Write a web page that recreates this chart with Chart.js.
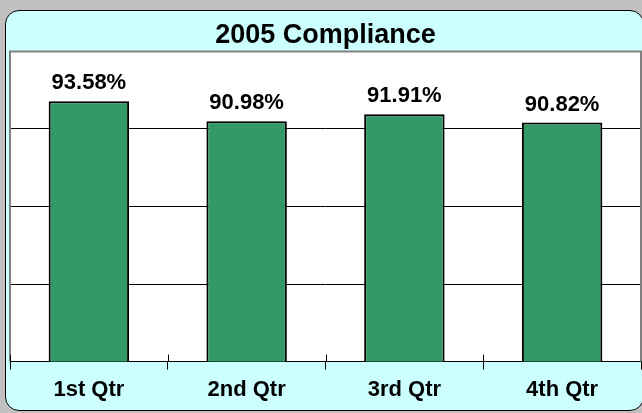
<!DOCTYPE html>
<html>
<head>
<meta charset="utf-8">
<script src="https://cdn.jsdelivr.net/npm/chart.js@4"></script>
<style>
  html, body { margin: 0; padding: 0; background: #c0c0c0; overflow: hidden; }
  #panel {
    position: absolute; left: 5px; top: 10px; width: 637px; height: 399px;
    border: 1px solid #000; border-radius: 14px; background: #ccffff; overflow: hidden;
  }
  #panel canvas { display: block; }
</style>
</head>
<body>
<div id="panel"><canvas id="myChart" width="637" height="399"></canvas></div>
<script>
const quarters = ['1st Qtr', '2nd Qtr', '3rd Qtr', '4th Qtr'];
const compliance = [93.58, 90.98, 91.91, 90.82];
const yTicks = [60, 70, 80, 90, 100];

const ctx = document.getElementById('myChart');
const font = "'Liberation Sans', Arial, sans-serif";

// white plot area + gray frame, crossing tick marks, value labels
const plotDecor = {
    id: 'plotDecor',
    beforeDraw(chart) {
        const a = chart.chartArea, c = chart.ctx;
        c.save();
        c.fillStyle = '#ffffff';
        c.fillRect(a.left, a.top, a.right - a.left, a.bottom - a.top);
        c.restore();
    },
    afterDraw(chart) {
        const a = chart.chartArea, c = chart.ctx;
        c.save();
        c.strokeStyle = '#808080';
        c.lineWidth = 2;
        c.beginPath();
        c.moveTo(a.left, a.bottom);
        c.lineTo(a.left, a.top);
        c.lineTo(a.right, a.top);
        c.lineTo(a.right, a.bottom);
        c.stroke();

        // upper half of the crossing tick marks
        const x = chart.scales.x;
        const half = (x.getPixelForValue(1) - x.getPixelForValue(0)) / 2;
        c.strokeStyle = '#000';
        c.lineWidth = 1;
        for (let i = 0; i < quarters.length; i++) {
            const px = Math.round(x.getPixelForValue(i) - half) + 0.5;
            c.beginPath();
            c.moveTo(px, a.bottom - 7);
            c.lineTo(px, a.bottom);
            c.stroke();
        }

        // value labels
        const meta = chart.getDatasetMeta(0);
        c.fillStyle = '#000';
        c.font = 'bold 22px ' + font;
        c.textAlign = 'center';
        c.textBaseline = 'alphabetic';
        meta.data.forEach((bar, i) => {
            c.fillText(compliance[i].toFixed(2) + '%', bar.x, bar.y - 12);
        });
        c.restore();
    }
};

new Chart(ctx, {
    type: 'bar',
    data: {
        labels: quarters,
        datasets: [{
            data: compliance,
            backgroundColor: '#339966',
            borderColor: '#000000',
            borderWidth: 2,
            borderSkipped: false,
            barPercentage: 1,
            categoryPercentage: 0.51
        }]
    },
    options: {
        responsive: false,
        animation: false,
        layout: { padding: { left: 4, right: 2, top: 0, bottom: 0 } },
        plugins: {
            legend: { display: false },
            tooltip: { enabled: false },
            title: {
                display: true,
                text: '2005 Compliance',
                color: '#000',
                font: { family: font, size: 27, weight: 'bold' },
                padding: { top: 8, bottom: 0 }
            }
        },
        scales: {
            x: {
                offset: true,
                grid: {
                    offset: true,
                    drawOnChartArea: false,
                    tickLength: 8,
                    color: '#000'
                },
                border: { display: true, color: '#000', width: 1 },
                ticks: {
                    color: '#000',
                    padding: 7,
                    font: { family: font, size: 22, weight: 'bold' }
                }
            },
            y: {
                min: yTicks[0],
                max: yTicks[yTicks.length - 1],
                ticks: { stepSize: yTicks[1] - yTicks[0], display: false },
                grid: {
                    drawTicks: false,
                    color: (c) => (c.tick && c.tick.value > yTicks[0] && c.tick.value < yTicks[yTicks.length - 1]) ? '#000' : 'rgba(0,0,0,0)'
                },
                border: { display: false }
            }
        }
    },
    plugins: [plotDecor]
});
</script>
</body>
</html>
